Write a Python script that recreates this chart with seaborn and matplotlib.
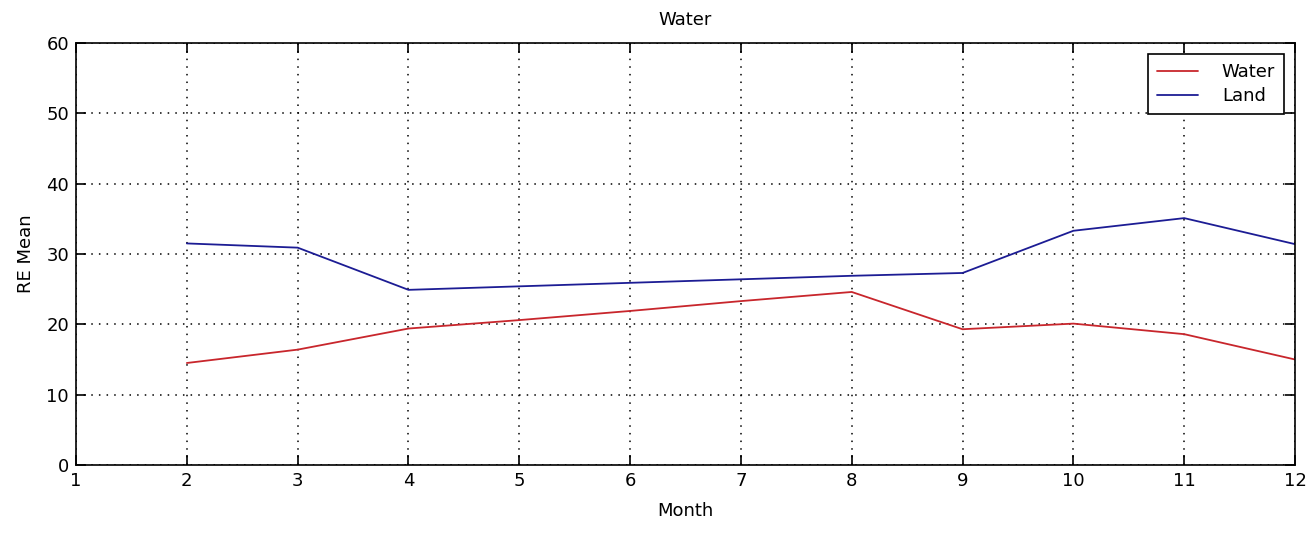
import matplotlib
matplotlib.use("Agg")
import matplotlib.pyplot as plt
import seaborn as sns
import pandas as pd

# Monthly RE mean values for the two surface types
months = [2, 3, 4, 5, 6, 7, 8, 9, 10, 11, 12]
water = [14.5, 16.4, 19.4, 20.6, 21.9, 23.3, 24.6, 19.3, 20.1, 18.6, 15.0]
land = [31.5, 30.9, 24.9, 25.4, 25.9, 26.4, 26.9, 27.3, 33.3, 35.1, 31.4]
series_names = ["Water", "Land"]
series_colors = ["#c8262c", "#1c1c94"]

x_ticks = list(range(1, 13))
y_ticks = [0, 10, 20, 30, 40, 50, 60]

df = pd.concat([
    pd.DataFrame({"Month": months, "RE Mean": water, "Surface": series_names[0]}),
    pd.DataFrame({"Month": months, "RE Mean": land, "Surface": series_names[1]}),
], ignore_index=True)

sns.set_style("white")
plt.rcParams["font.family"] = ["DejaVu Sans"]
plt.rcParams["font.size"] = 13
plt.rcParams["text.color"] = "black"
plt.rcParams["axes.labelcolor"] = "black"

fig = plt.figure(figsize=(13.11, 5.36), dpi=100)
ax = fig.add_axes([0.058, 0.1325, 0.9298, 0.7873])

sns.lineplot(
    data=df, x="Month", y="RE Mean", hue="Surface",
    palette=dict(zip(series_names, series_colors)),
    linewidth=1.3, ax=ax, legend=True,
)

ax.set_xlim(1, 12)
ax.set_ylim(0, 60)
ax.set_xticks(x_ticks)
ax.set_yticks(y_ticks)
ax.tick_params(direction="in", length=7, width=1.2, top=True, right=True,
               bottom=True, left=True, labelsize=13, colors="black", pad=5)
ax.grid(True, linestyle=(0, (1, 4)), color="black", linewidth=1.1)
for s in ax.spines.values():
    s.set_color("black")
    s.set_linewidth(1.2)
    s.set_visible(True)

ax.set_title("Water", fontsize=13, pad=13, color="black")
ax.set_xlabel("Month", fontsize=13, labelpad=9)
ax.set_ylabel("RE Mean", fontsize=13, labelpad=8)

leg = ax.legend(loc="upper right", fontsize=13, frameon=True, fancybox=False,
                edgecolor="black", framealpha=1.0, borderaxespad=0.6,
                handlelength=2.3, handletextpad=1.3, borderpad=0.5,
                labelspacing=0.35)
leg.get_frame().set_linewidth(1.2)

fig.savefig("out.png", dpi=100)
